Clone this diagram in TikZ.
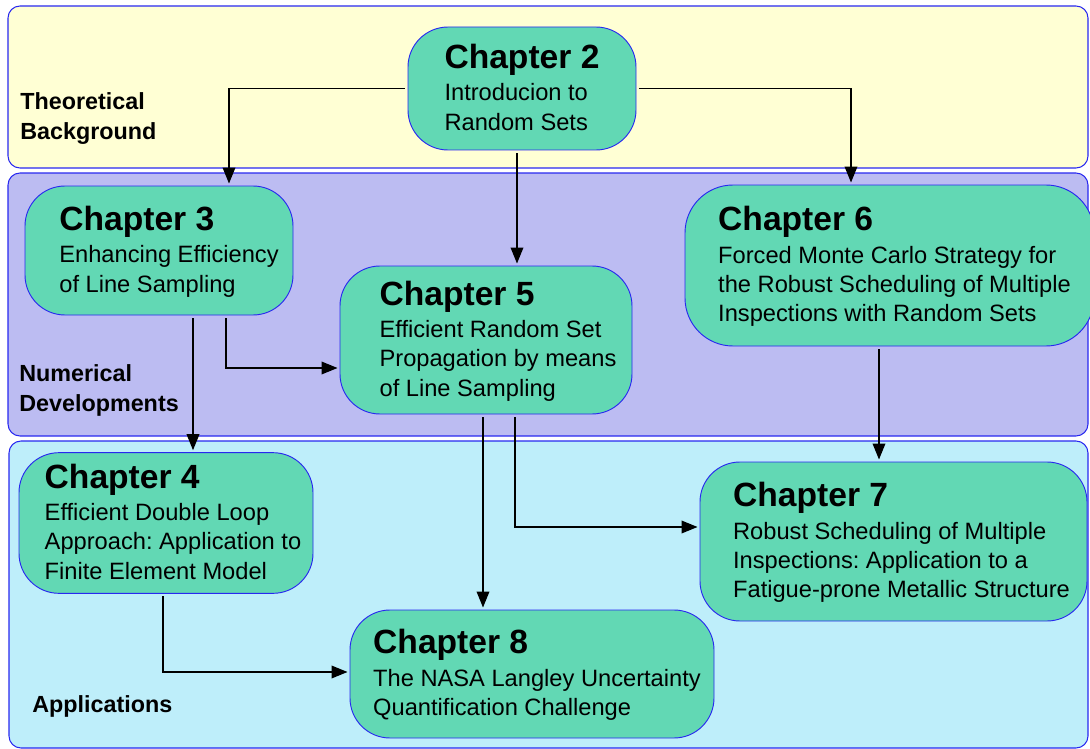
\documentclass[tikz,border=0pt]{standalone}
\usepackage{fontspec}
\setmainfont{Liberation Sans}
\usepackage{tikz}
\usetikzlibrary{arrows.meta,calc,positioning}
\frenchspacing
\definecolor{bandTheo}{HTML}{FFFFD4}
\definecolor{bandNum}{HTML}{BCBCF2}
\definecolor{bandApp}{HTML}{BEEEFA}
\definecolor{chapFill}{HTML}{62D8B4}
\definecolor{edgeBlue}{HTML}{2828F0}
% #1 left indent, #2 title, #3 description lines
\newcommand{\chapText}[3]{\begin{tabular}{@{\hspace{#1}}l@{}}%
    \rule{0pt}{22.5pt}{\fontsize{25.2}{28}\selectfont\bfseries #2}\\[2.4pt]#3\end{tabular}}

\begin{document}
\begin{tikzpicture}
    [x=0.75pt, y=-0.75pt,
    band/.style = {draw=edgeBlue, line width=0.8pt, rounded corners=9pt},
    chapter/.style = {shape=rectangle, rounded corners=30pt, draw=edgeBlue,
        line width=0.7pt, fill=chapFill, inner sep=4pt,
        font=\fontsize{17.75}{22}\selectfont},
    bandlabel/.style = {anchor=west, align=left, inner xsep=0pt,
        font=\fontsize{17.5}{22.5}\selectfont\bfseries},
    arr/.style = {-{Triangle[length=12pt,width=9.5pt]}, line width=1pt,
        shorten <=2pt, shorten >=1.5pt}]
    \useasboundingbox (0,0) rectangle (1090,749);

    % background bands
    \filldraw[band, fill=bandTheo] (8,6) rectangle (1088,168);
    \filldraw[band, fill=bandNum] (8,173) rectangle (1088,436);
    \filldraw[band, fill=bandApp] (9,441) rectangle (1088,748);

    \node[bandlabel] (theo) at (20,119) {Theoretical\\Background};
    \node[bandlabel] (num) at (19,390) {Numerical\\Developments};
    \node[bandlabel] (app) at (32,706) {Applications};

    % chapters
    \node[chapter, minimum width=171pt, minimum height=92.25pt] (ch2) at (522,88.5)
        {\chapText{0pt}{Chapter 2}{Introducion to\\Random Sets}};
    \node[chapter, minimum width=201pt, minimum height=96.75pt] (ch3) at (159,250.5)
        {\chapText{15pt}{Chapter 3}{Enhancing Efficiency\\of Line Sampling}};
    \node[chapter, minimum width=219pt, minimum height=111pt] (ch5) at (486,340)
        {\chapText{18pt}{Chapter 5}{Efficient Random Set\\Propagation by means\\of Line Sampling}};
    \node[chapter, rounded corners=36pt, minimum width=306.75pt, minimum height=120.75pt] (ch6) at (889.5,265.5)
        {\chapText{7.5pt}{Chapter 6}{Forced Monte Carlo Strategy for\\the Robust Scheduling of Multiple\\Inspections with Random Sets}};
    \node[chapter, minimum width=220.5pt, minimum height=105pt] (ch4) at (166,523)
        {\chapText{10.5pt}{Chapter 4}{Efficient Double Loop\\Approach: Application to\\Finite Element Model}};
    \node[chapter, minimum width=290.25pt, minimum height=119.25pt] (ch7) at (893.5,541.5)
        {\chapText{12pt}{Chapter 7}{Robust Scheduling of Multiple\\Inspections: Application to a\\Fatigue-prone Metallic Structure}};
    \node[chapter, minimum width=273pt, minimum height=96pt] (ch8) at (532,674)
        {\chapText{7.5pt}{Chapter 8}{The NASA Langley Uncertainty\\Quantification Challenge}};

    % dependencies
    \draw[arr] (ch2.west) -| ($(ch3.north)+(70,0)$);
    \draw[arr] (ch2.east) -| ($(ch6.north)+(-38.5,0)$);
    \draw[arr] ($(ch2.south)+(-5,0)$) -- ($(ch5.north)+(31,0)$);
    \draw[arr] ($(ch3.south)+(67,0)$) |- ($(ch5.west)+(0,28)$);
    \draw[arr] ($(ch3.south)+(34,0)$) -- ($(ch4.north)+(27,0)$);
    \draw[arr] ($(ch5.south)+(-3,0)$) -- ($(ch8.north)+(-49,0)$);
    \draw[arr] ($(ch5.south)+(29,0)$) |- ($(ch7.west)+(0,-14.5)$);
    \draw[arr] ($(ch6.south)+(-10.5,0)$) -- ($(ch7.north)+(-14.5,0)$);
    \draw[arr] ($(ch4.south)+(-3,0)$) |- ($(ch8.west)+(0,-2)$);
\end{tikzpicture}
\end{document}
